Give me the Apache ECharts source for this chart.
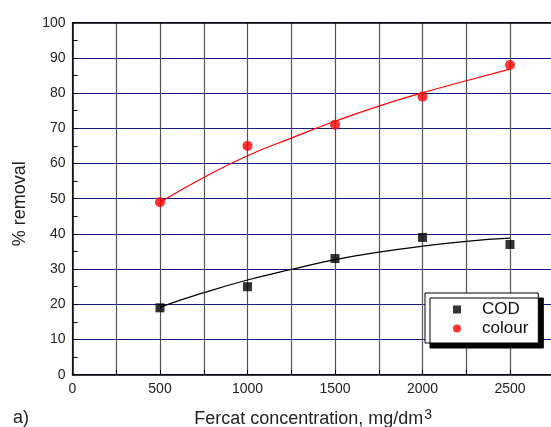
<!DOCTYPE html>
<html>
<head>
<meta charset="utf-8">
<script src="https://cdn.jsdelivr.net/npm/echarts@6/dist/echarts.min.js"></script>
<style>
  html, body { margin: 0; padding: 0; background: #fff; }
  #chart { width: 551px; height: 427px; }
</style>
</head>
<body>
<div id="chart"></div>
<script>
// Fercat dose (mg/dm3) and measured removal
const doses = [500, 1000, 1500, 2000, 2500];
const codRemoval = [19, 25, 33, 39, 37];
const colourRemoval = [49, 65, 71, 79, 88];

// Fitted trend curves
const fitDoses = [500, 750, 1000, 1250, 1500, 1750, 2000, 2250, 2500];
const codFit = [19.2, 23.3, 26.9, 29.9, 32.7, 34.8, 36.5, 37.9, 38.8];
const colourFit = [49, 56, 62.2, 67.2, 72, 76.3, 80.1, 83.5, 86.8];

const xTickLabels = ['0', '500', '1000', '1500', '2000', '2500'];

const FONT = '"Liberation Sans", Arial, sans-serif';
const pairs = (xs, ys) => xs.map((x, i) => [x, ys[i]]);

const chart = echarts.init(document.getElementById('chart'), null, { renderer: 'canvas' });

chart.setOption({
  animation: false,
  backgroundColor: '#fff',
  grid: {
    left: 72.5, top: 22.7, right: -2.75, bottom: 52.3,
    containLabel: false, outerBoundsMode: 'none'
  },
  legend: {
    left: 425, top: 293,
    orient: 'vertical',
    width: 112,
    padding: [8, 10, 6, 28],
    itemGap: 2,
    itemWidth: 8, itemHeight: 8,
    backgroundColor: '#fff',
    borderColor: '#000', borderWidth: 1,
    shadowColor: '#000', shadowBlur: 0, shadowOffsetX: 5, shadowOffsetY: 5,
    textStyle: { fontFamily: FONT, fontSize: 17, color: '#111', padding: [0, 0, 0, 16] },
    data: [
      { name: 'COD', icon: 'rect' },
      { name: 'colour', icon: 'circle' }
    ]
  },
  xAxis: [{
    type: 'value', min: 0, max: 2750, interval: 250,
    name: '{a|Fercat concentration, mg/dm}{s|3}',
    nameLocation: 'middle', nameGap: 33,
    nameTextStyle: {
      rich: {
        a: { fontFamily: FONT, fontSize: 18, color: '#222' },
        s: { fontFamily: FONT, fontSize: 14, color: '#222', verticalAlign: 'top', padding: [0, 0, 8, 1] }
      }
    },
    axisLine: { lineStyle: { color: '#000', width: 1.5 } },
    axisTick: { inside: true, length: 5, lineStyle: { color: '#000' } },
    axisLabel: {
      fontFamily: FONT, fontSize: 14, color: '#222', margin: 7,
      formatter: v => (v % 500 === 0 ? xTickLabels[v / 500] : '')
    },
    splitLine: { show: true, lineStyle: { color: '#555', width: 1.2 } }
  }, {
    type: 'value', min: 0, max: 2750, position: 'top',
    axisLine: { show: true, onZero: false, lineStyle: { color: '#000', width: 1.5 } },
    axisTick: { show: false }, axisLabel: { show: false }, splitLine: { show: false }
  }],
  yAxis: {
    type: 'value', min: 0, max: 100, interval: 10,
    name: '% removal',
    nameLocation: 'middle', nameGap: 43,
    nameTextStyle: { fontFamily: FONT, fontSize: 18, color: '#222', padding: [0, 10, 0, 0] },
    axisLine: { show: true, lineStyle: { color: '#000', width: 1.5 } },
    axisTick: { show: true, inside: true, length: 5, lineStyle: { color: '#000' } },
    minorTick: { show: true, splitNumber: 2, length: 5, lineStyle: { color: '#000' } },
    axisLabel: { fontFamily: FONT, fontSize: 14, color: '#222', margin: 7 },
    splitLine: { show: true, lineStyle: { color: '#1a1a8a', width: 1 } }
  },
  series: [
    {
      name: 'COD fit', type: 'line', smooth: true, showSymbol: false, symbol: 'none',
      data: pairs(fitDoses, codFit),
      lineStyle: { color: '#000', width: 1.2 }, z: 3
    },
    {
      name: 'colour fit', type: 'line', smooth: true, showSymbol: false, symbol: 'none',
      data: pairs(fitDoses, colourFit),
      lineStyle: { color: '#ff0000', width: 1.2 }, z: 3
    },
    {
      name: 'COD', type: 'scatter', symbol: 'rect', symbolSize: 9,
      itemStyle: { color: '#000' },
      data: pairs(doses, codRemoval), z: 4
    },
    {
      name: 'colour', type: 'scatter', symbol: 'circle', symbolSize: 10,
      itemStyle: { color: '#ff0000' },
      data: pairs(doses, colourRemoval), z: 4
    }
  ],
  graphic: [{
    type: 'text', left: 13, top: 409,
    style: { text: 'a)', fontFamily: FONT, fontSize: 18, fill: '#222' }
  }]
});
</script>
</body>
</html>
